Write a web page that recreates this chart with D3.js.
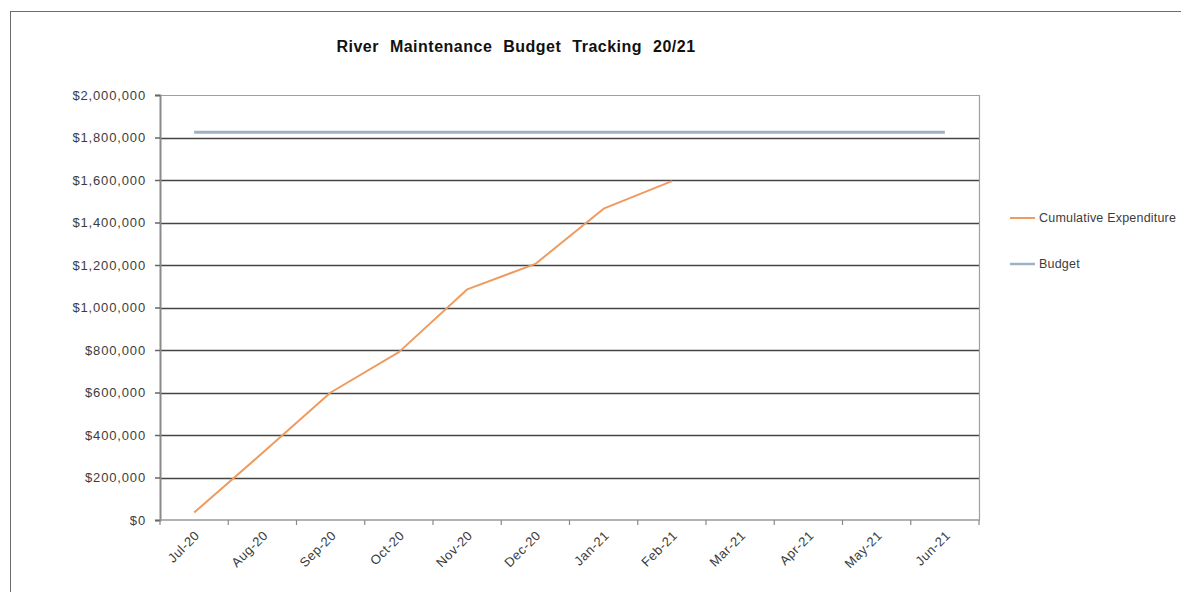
<!DOCTYPE html>
<html>
<head>
<meta charset="utf-8">
<script src="https://cdn.jsdelivr.net/npm/d3@7"></script>
<style>
  html, body { margin: 0; padding: 0; background: #fff; }
  svg { display: block; font-family: "Liberation Sans", Arial, sans-serif; }
</style>
</head>
<body>
<svg id="chart" width="1181" height="592"></svg>
<script>
// Months of the 2020/21 financial year
const months = ["Jul-20", "Aug-20", "Sep-20", "Oct-20", "Nov-20", "Dec-20",
                "Jan-21", "Feb-21", "Mar-21", "Apr-21", "May-21", "Jun-21"];

// Cumulative spend recorded so far (Jul-20 to Feb-21)
const cumulativeExpenditure = [35000, 315000, 600000, 790000, 1085000, 1205000, 1465000, 1595000];

// Annual budget, held flat across every month
const budget = [1825000, 1825000, 1825000, 1825000, 1825000, 1825000,
                1825000, 1825000, 1825000, 1825000, 1825000, 1825000];

// Y axis tick values
const yTicks = [0, 200000, 400000, 600000, 800000, 1000000, 1200000,
                1400000, 1600000, 1800000, 2000000];

const seriesNames = ["Cumulative Expenditure", "Budget"];

const svg = d3.select("#chart");
const plot = { left: 160, right: 979, top: 95, bottom: 520 };

// Outer chart frame
svg.append("rect")
  .attr("x", 10.5).attr("y", 11.5)
  .attr("width", 1200).attr("height", 600)
  .attr("fill", "#fff").attr("stroke", "#6b6b6b").attr("stroke-width", 1);

const x = d3.scaleBand().domain(months).range([plot.left, plot.right]);
const y = d3.scaleLinear().domain([0, 2000000]).range([plot.bottom, plot.top]);

// Title
svg.append("text")
  .attr("x", 516).attr("y", 52)
  .attr("text-anchor", "middle")
  .attr("font-size", 16).attr("font-weight", "bold")
  .attr("fill", "#111")
  .attr("word-spacing", "6px")
  .attr("letter-spacing", "0.5px")
  .text("River Maintenance Budget Tracking 20/21");

// Horizontal gridlines
svg.append("g")
  .selectAll("line")
  .data(yTicks.filter(t => t > 0 && t < 2000000))
  .join("line")
  .attr("x1", plot.left).attr("x2", plot.right)
  .attr("y1", d => Math.round(y(d)) + 0.5).attr("y2", d => Math.round(y(d)) + 0.5)
  .attr("stroke", "#454545").attr("stroke-width", 1.7);

// Plot-area frame (top and right)
svg.append("path")
  .attr("d", `M${plot.left},${plot.top + 0.5}H${plot.right + 0.5}V${plot.bottom}`)
  .attr("fill", "none").attr("stroke", "#a0a0a0").attr("stroke-width", 1.2);

// Y axis
const yAxis = svg.append("g")
  .attr("transform", `translate(${plot.left},0)`)
  .call(d3.axisLeft(y)
    .tickValues(yTicks)
    .tickSize(5)
    .tickPadding(9)
    .tickFormat(d => "$" + d3.format(",")(d)));
yAxis.select(".domain").attr("stroke", "#8a8a8a").attr("stroke-width", 2);
yAxis.selectAll(".tick line").attr("stroke", "#666").attr("stroke-width", 1.5);
yAxis.selectAll(".tick text")
  .attr("font-size", 13).attr("fill", "#3c3c3c")
  .attr("letter-spacing", "0.85px")
  .attr("font-family", "'Liberation Sans', Arial, sans-serif");

// X axis: ticks sit on category boundaries
const xAxisG = svg.append("g").attr("transform", `translate(0,${plot.bottom})`);
xAxisG.append("line")
  .attr("x1", plot.left).attr("x2", plot.right + 1)
  .attr("stroke", "#9a9a9a").attr("stroke-width", 1.5);
const boundaries = months.map(m => x(m)).concat([plot.right]);
xAxisG.selectAll("line.tick")
  .data(boundaries)
  .join("line")
  .attr("class", "tick")
  .attr("x1", d => d).attr("x2", d => d)
  .attr("y1", 0).attr("y2", 5)
  .attr("stroke", "#8a8a8a").attr("stroke-width", 1.2);
xAxisG.selectAll("text")
  .data(months)
  .join("text")
  .attr("transform", d => `translate(${x(d) + x.bandwidth() / 2 + 3},${13}) rotate(-45)`)
  .attr("text-anchor", "end")
  .attr("dy", "0.35em")
  .attr("font-size", 13).attr("fill", "#3c3c3c")
  .attr("letter-spacing", "0.5px")
  .text(d => d);

const cx = d => x(d) + x.bandwidth() / 2;

// Budget line
svg.append("path")
  .datum(budget.map((v, i) => [months[i], v]))
  .attr("fill", "none")
  .attr("stroke", "#9fb1c9").attr("stroke-width", 3)
  .attr("d", d3.line().x(d => cx(d[0])).y(d => y(d[1])));

// Cumulative expenditure line
svg.append("path")
  .datum(cumulativeExpenditure.map((v, i) => [months[i], v]))
  .attr("fill", "none")
  .attr("stroke", "#ef9b5f").attr("stroke-width", 2)
  .attr("stroke-linejoin", "round")
  .attr("d", d3.line().x(d => cx(d[0])).y(d => y(d[1])));

// Legend
const legendColors = ["#ef9b5f", "#9fb1c9"];
const legend = svg.append("g")
  .selectAll("g")
  .data(seriesNames)
  .join("g")
  .attr("transform", (d, i) => `translate(1010,${218 + i * 46})`);
legend.append("line")
  .attr("x1", 0).attr("x2", 25)
  .attr("stroke", (d, i) => legendColors[i])
  .attr("stroke-width", (d, i) => i === 0 ? 2 : 2.5);
legend.append("text")
  .attr("x", 29).attr("dy", "0.35em")
  .attr("font-size", 12.5).attr("fill", "#3c3c3c")
  .attr("letter-spacing", "0.2px")
  .text(d => d);
</script>
</body>
</html>
